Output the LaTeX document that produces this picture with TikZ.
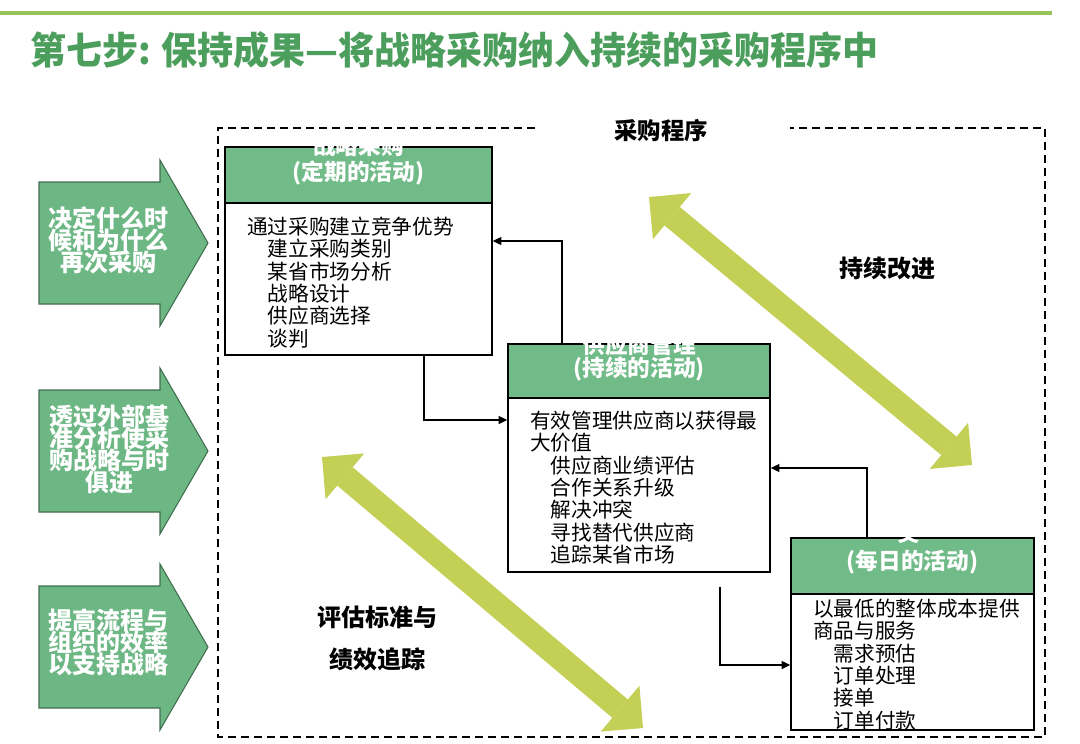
\documentclass[tikz,border=0pt]{standalone}
\usepackage{fontspec}
\setmainfont{Noto Sans CJK SC}
\usetikzlibrary{arrows.meta,calc}
\lineskiplimit=-20pt
\lineskip=0pt
\definecolor{titlegreen}{HTML}{4C9E5C}
\definecolor{linegreen}{HTML}{96C35A}
\definecolor{headgreen}{HTML}{70BB88}
\definecolor{arrowgreen}{HTML}{6CB784}
\definecolor{limegreen}{HTML}{C4CF55}
\tikzset{
  boxbody/.style={draw=black, fill=white, line width=1.1pt, inner sep=0pt},
  boxhead/.style={draw=black, fill=headgreen, line width=1.1pt, inner sep=0pt},
  headtxt/.style={text=white, inner sep=0pt, font=\fontsize{17pt}{20pt}\selectfont\bfseries},
  bodytxt/.style={inner sep=0pt, anchor=north west, align=left, font=\fontsize{15.5pt}{16.8pt}\selectfont},
  conn/.style={draw=black, line width=0.9pt, -{Triangle[length=6.5pt,width=6pt]}},
  bigarrow/.style={draw=arrowgreen!60!black, fill=arrowgreen, line width=0.8pt},
  arrowtxt/.style={text=white, inner sep=0pt, align=center, font=\fontsize{18pt}{16.5pt}\selectfont\bfseries},
  dblarrow/.style={draw=limegreen, line width=18pt, {Triangle[length=22.5pt,width=45pt,line width=0pt]}-{Triangle[length=22.5pt,width=45pt,line width=0pt]}},
  labeltxt/.style={inner sep=0pt, font=\fontsize{18pt}{20pt}\selectfont\bfseries}
}
\begin{document}
\begin{tikzpicture}[x=0.75pt,y=-0.75pt]
\useasboundingbox (0,0) rectangle (1080,743);
% top line and title
\draw[linegreen, line width=2.4pt] (0,13) -- (1052,13);
\node[anchor=west, inner sep=0pt, text=titlegreen, font=\fontsize{27pt}{30pt}\selectfont\bfseries, yscale=1.05] (title) at (30,50) {第七步: 保持成果—将战略采购纳入持续的采购程序中};
% dashed frame
\draw[line width=1pt, dash pattern=on 6pt off 3.75pt] (535,128) -- (218,128) -- (218,737) -- (1045,737) -- (1045,128) -- (790,128);
\node[labeltxt, font=\fontsize{17.5pt}{20pt}\selectfont\bfseries] (proc) at (661,131) {采购程序};

% double arrows
\coordinate (a1s) at (649,197);
\coordinate (a1e) at (972,465);
\coordinate (a2s) at (322,457);
\coordinate (a2e) at (643,728);
\draw[dblarrow] (a1s) -- (a1e);
\draw[dblarrow] (a2s) -- (a2e);
\node[labeltxt] (ci) at (887,268) {持续改进};
\node[labeltxt, align=center, font=\fontsize{18pt}{31.5pt}\selectfont\bfseries] (eval) at (377,638) {评估标准与\\绩效追踪};

% left arrows
\draw[bigarrow] (39,182) -- (160,182) -- (160,160) -- (208,243) -- (160,326) -- (160,304) -- (39,304) -- cycle;
\draw[bigarrow] (39,390) -- (160,390) -- (160,368) -- (208,451) -- (160,534) -- (160,512) -- (39,512) -- cycle;
\draw[bigarrow] (39,586) -- (160,586) -- (160,564) -- (208,647) -- (160,730) -- (160,708) -- (39,708) -- cycle;
\node[arrowtxt] (la) at (108,240.5) {决定什么时\\候和为什么\\再次采购};
\node[arrowtxt] (lb) at (109,449.5) {透过外部基\\准分析使采\\购战略与时\\俱进};
\node[arrowtxt] (lc) at (108,642.5) {提高流程与\\组织的效率\\以支持战略};

% box 1
\node[boxbody, minimum width=200.25pt, minimum height=156pt] (b1) at (358.5,251) {};
\node[boxhead, minimum width=200.25pt, minimum height=42pt] (h1) at (358.5,175) {};
\begin{scope}
\clip (h1.south west) rectangle (h1.north east);
\node[headtxt] (h1a) at (358.5,146) {战略采购};
\node[headtxt] (h1b) at (358.5,173) {(定期的活动)};
\end{scope}
\node[bodytxt] (t1) at (247,216.5) {通过采购建立竞争优势\\\hspace*{1em}建立采购类别\\\hspace*{1em}某省市场分析\\\hspace*{1em}战略设计\\\hspace*{1em}供应商选择\\\hspace*{1em}谈判};

% box 2
\node[boxbody, minimum width=196.5pt, minimum height=171pt] (b2) at (639,458) {};
\node[boxhead, minimum width=196.5pt, minimum height=40.5pt] (h2) at (639,371) {};
\begin{scope}
\clip (h2.south west) rectangle (h2.north east);
\node[headtxt] (h2a) at (639,345) {供应商管理};
\node[headtxt] (h2b) at (639,369) {(持续的活动)};
\end{scope}
\node[bodytxt] (t2) at (530,410.5) {有效管理供应商以获得最\\大价值\\\hspace*{1em}供应商业绩评估\\\hspace*{1em}合作关系升级\\\hspace*{1em}解决冲突\\\hspace*{1em}寻找替代供应商\\\hspace*{1em}追踪某省市场};

% box 3
\node[boxbody, minimum width=182.25pt, minimum height=144pt] (b3) at (912.5,634) {};
\node[boxhead, minimum width=182.25pt, minimum height=42pt] (h3) at (912.5,566) {};
\begin{scope}
\clip (h3.south west) rectangle (h3.north east);
\node[headtxt] (h3a) at (909,533) {交};
\node[headtxt] (h3b) at (912.5,562) {(每日的活动)};
\end{scope}
\node[bodytxt] (t3) at (813,598.5) {以最低的整体成本提供\\商品与服务\\\hspace*{1em}需求预估\\\hspace*{1em}订单处理\\\hspace*{1em}接单\\\hspace*{1em}订单付款};

% connectors
\draw[conn] (b2.north -| 562,0) |- (b1.east |- 0,241);
\draw[conn] (b1.south -| 424,0) |- (b2.west |- 0,420);
\draw[conn] (b3.north -| 867,0) |- (b2.east |- 0,468);
\coordinate (c4s) at (720,587);
\draw[conn] (c4s) |- (b3.west |- 0,665);
\end{tikzpicture}
\end{document}
